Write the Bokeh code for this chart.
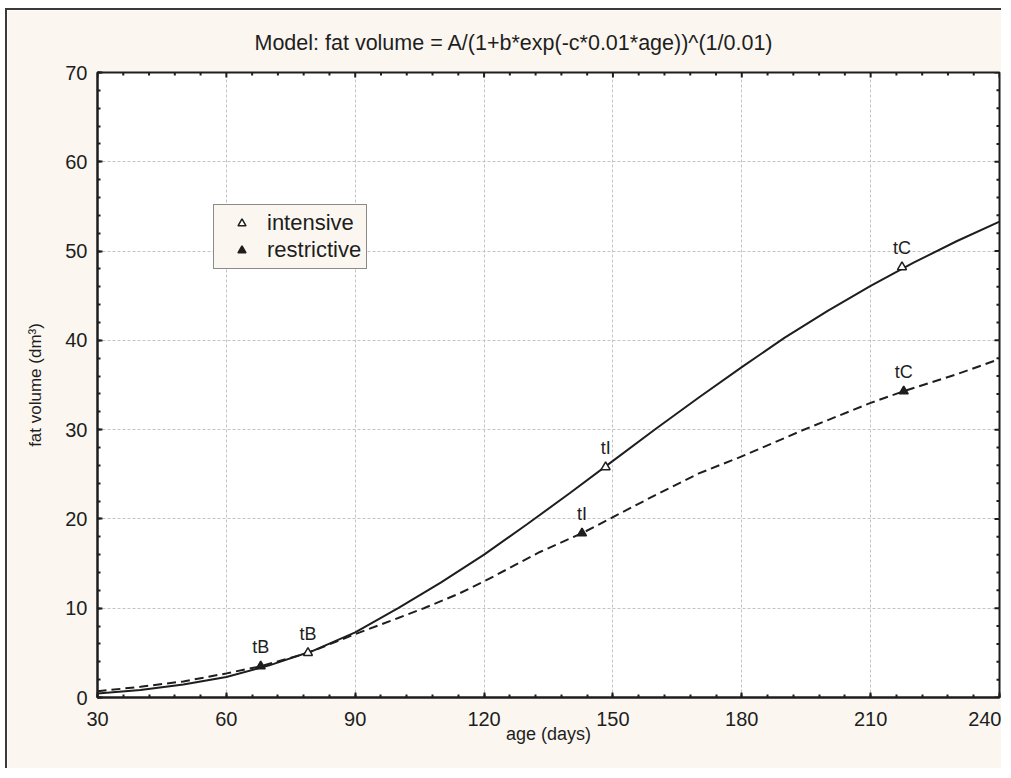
from bokeh.plotting import figure
from bokeh.models import Range1d, SingleIntervalTicker, Legend, LegendItem, Title, ColumnDataSource
from bokeh.embed import file_html
from bokeh.resources import INLINE
from bokeh.core.properties import value
import math

TITLE = "Model: fat volume = A/(1+b*exp(-c*0.01*age))^(1/0.01)"
X_LABEL = "age (days)"
Y_LABEL = "fat volume (dm³)"

# intensive growth curve (solid)
intensive_age = [30, 40, 50, 60, 70, 80, 90, 100, 110, 120, 130, 140, 150, 160, 170, 180, 190, 200, 210, 220, 230, 240]
intensive_fat = [0.45, 0.85, 1.45, 2.3, 3.6, 5.2, 7.3, 10.0, 12.9, 16.0, 19.4, 22.9, 26.5, 30.1, 33.6, 37.0, 40.3, 43.3, 46.1, 48.7, 51.1, 53.3]

# restrictive growth curve (dashed)
restrictive_age = [30, 40, 50, 60, 68, 79, 90, 100, 106, 114, 120, 133, 142.8, 150, 160, 170, 180, 194, 210, 217.7, 230, 240]
restrictive_fat = [0.7, 1.2, 1.8, 2.7, 3.5, 5.0, 7.1, 8.9, 10.0, 11.6, 13.0, 16.3, 18.4, 20.2, 22.7, 25.1, 27.0, 29.9, 33.0, 34.3, 36.2, 37.9]

point_labels = ["tB", "tI", "tC"]
intensive_pt_age = [79.0, 148.3, 217.3]
intensive_pt_fat = [5.0, 25.8, 48.2]
restrictive_pt_age = [68.0, 142.8, 217.7]
restrictive_pt_fat = [3.5, 18.4, 34.3]

series_names = ["intensive", "restrictive"]

# axis ticks (major every 30 / 10, minor every 6 / 2)
x_major = list(range(30, 241, 30))
x_minor = [v for v in range(30, 241, 6) if v not in x_major]
y_major = list(range(0, 71, 10))
y_minor = [v for v in range(0, 71, 2) if v not in y_major]

FONT = "Liberation Sans"
INK = "#1e1e1e"
CREAM = "#FBF7F0"

p = figure(width=996, height=760, x_range=Range1d(30, 240), y_range=Range1d(0, 70),
           output_backend="svg", toolbar_location=None,
           min_border_left=90, min_border_right=4, min_border_top=60, min_border_bottom=73)
p.styles = {"margin-left": "5px", "margin-top": "8px",
            "border-left": "2px solid #3a3a3a", "border-top": "2px solid #3a3a3a"}
p.background_fill_color = "white"
p.border_fill_color = CREAM
p.outline_line_color = INK
p.outline_line_width = 2

p.title = Title(text=TITLE, align="left", offset=157, text_font=FONT, text_font_size="21.5px",
                text_font_style="normal", text_color=INK, standoff=36)

xt = SingleIntervalTicker(interval=30, num_minor_ticks=5)
yt = SingleIntervalTicker(interval=10, num_minor_ticks=5)

def style_axis(ax):
    ax.axis_line_color = INK
    ax.axis_line_width = 2
    ax.major_tick_in = 5
    ax.major_tick_out = 0
    ax.minor_tick_in = 3
    ax.minor_tick_out = 0
    ax.major_tick_line_color = INK
    ax.minor_tick_line_color = INK
    ax.major_tick_line_width = 2
    ax.minor_tick_line_width = 2
    ax.major_label_text_font = FONT
    ax.major_label_text_color = INK
    ax.major_label_text_font_size = "20px"
    ax.axis_label_text_font = FONT
    ax.axis_label_text_font_style = "normal"
    ax.axis_label_text_color = INK

xa = p.xaxis[0]
xa.ticker = xt
style_axis(xa)
xa.major_label_standoff = 14
xa.axis_label = X_LABEL
xa.axis_label_text_font_size = "18px"
xa.axis_label_standoff = -5

ya = p.yaxis[0]
ya.ticker = yt
style_axis(ya)
ya.major_label_standoff = 10
ya.axis_label = Y_LABEL
ya.axis_label_text_font_size = "17px"
ya.axis_label_standoff = 17

p.xgrid.ticker = xt
p.ygrid.ticker = yt
for g in (p.xgrid[0], p.ygrid[0]):
    g.grid_line_color = "#c4c4c4"
    g.grid_line_dash = "3 2"
    g.grid_line_width = 1

# inward ticks on the top and right edges (dash markers clipped by the frame)
p.scatter(x_major, [70] * len(x_major), marker="dash", angle=math.pi / 2, size=10, line_color=INK, line_width=2)
p.scatter(x_minor, [70] * len(x_minor), marker="dash", angle=math.pi / 2, size=6, line_color=INK, line_width=2)
p.scatter([240] * len(y_major), y_major, marker="dash", size=10, line_color=INK, line_width=2)
p.scatter([240] * len(y_minor), y_minor, marker="dash", size=6, line_color=INK, line_width=2)

p.line(intensive_age, intensive_fat, line_color=INK, line_width=2)
p.line(restrictive_age, restrictive_fat, line_color=INK, line_width=2, line_dash="9 5")

src_i = ColumnDataSource(dict(x=intensive_pt_age, y=intensive_pt_fat, t=point_labels))
src_r = ColumnDataSource(dict(x=restrictive_pt_age, y=restrictive_pt_fat, t=point_labels))
r_i = p.scatter("x", "y", source=src_i, marker="triangle", size=9, fill_color="white",
                line_color=INK, line_width=1.5)
r_r = p.scatter("x", "y", source=src_r, marker="triangle", size=9, fill_color=INK,
                line_color=INK, line_width=1.5)
for s in (src_i, src_r):
    p.text("x", "y", text="t", source=s, text_font=value(FONT), text_font_size="18px",
           text_color=INK, text_align="center", text_baseline="middle", y_offset=-19)

legend = Legend(items=[LegendItem(label=series_names[0], renderers=[r_i]),
                       LegendItem(label=series_names[1], renderers=[r_r])],
                location=(116, 428))
legend.background_fill_color = CREAM
legend.background_fill_alpha = 1
legend.border_line_color = INK
legend.border_line_width = 1.5
legend.label_text_font = FONT
legend.label_text_font_size = "22px"
legend.label_text_color = INK
legend.padding = 5
legend.margin = 0
legend.spacing = 1
legend.label_height = 24
legend.glyph_height = 20
legend.glyph_width = 45
legend.label_standoff = 3
p.add_layout(legend, "center")

open("out.html", "w").write(file_html(p, INLINE))
